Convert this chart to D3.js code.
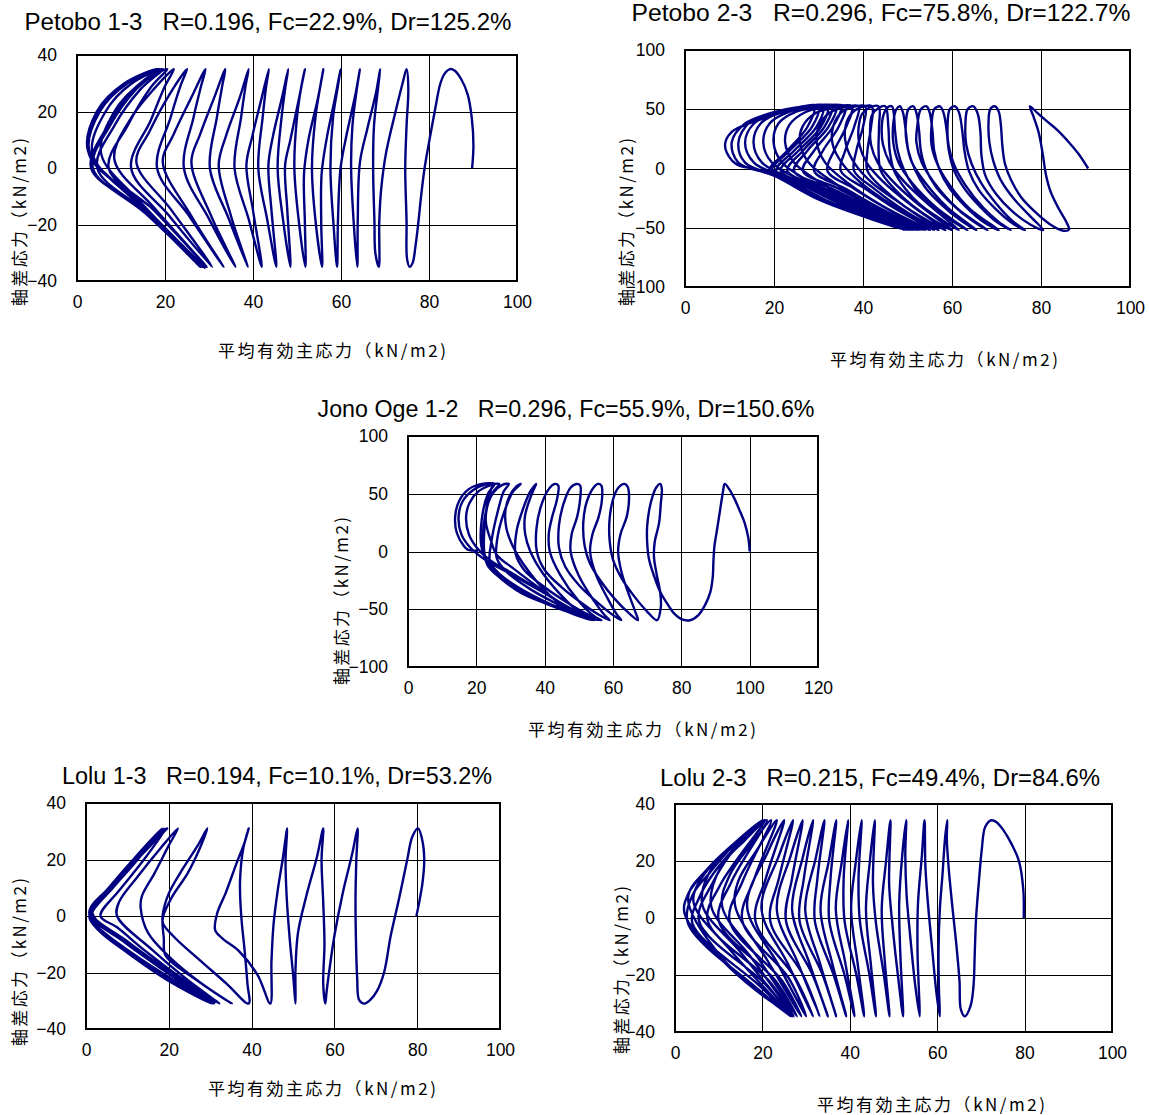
<!DOCTYPE html>
<html>
<head>
<meta charset="utf-8">
<script src="https://cdn.jsdelivr.net/npm/d3@7"></script>
<style>
body { margin: 0; background: #fff; }
svg text { font-family: "Liberation Sans", Arial, sans-serif; fill: #000; }
.jp { font-family: "Noto Sans CJK JP", sans-serif; }
</style>
</head>
<body>
<script>
var W = 1149, H = 1115;

// tick values
var xTicks100 = [0, 20, 40, 60, 80, 100];
var xTicks120 = [0, 20, 40, 60, 80, 100, 120];
var yTicks40 = [-40, -20, 0, 20, 40];
var yTicks100 = [-100, -50, 0, 50, 100];

var xLabel = "平均有効主応力（kN/m2)";
var yLabel = "軸差応力（kN/m2)";

// stress paths [p', q]
var petobo13 = [
 [89.8,0],[90.1,8],[89.7,18],[88.8,26],[87.3,31.5],[85.8,34.5],[84.8,35],
 [83.6,33.5],[82.6,30],[81.3,20],[80,9],[79,0],[78.2,-10],[77.6,-19],[76.9,-28],[76.3,-33.5],[75.6,-35],
 [75,-32],[74.9,-19],[74.6,0],[74.9,15],[75.3,28],[74.9,35],
 [74,30],[72.4,20],[70.2,5],[69.1,-8],[68.7,-19],[68.6,-35],
 [67.8,-30],[67.6,-19],[67.3,0],[67.5,15],[68.4,28],[68.9,35],
 [68,27],[66,14],[64.3,2],[63.8,-19],[63.7,-35],
 [63,-22],[62.3,0],[62.6,15],[63.6,28],[64.3,35],
 [63.4,27],[61.3,12],[59.9,0],[59.3,-19],[59.1,-35],
 [58.3,-20],[57.6,0],[58.2,18],[59.3,29],[59.9,35],
 [58.8,26],[56.7,10],[55.6,-2],[55.5,-19],[55.7,-35],
 [54.3,-20],[53.4,0],[54.2,18],[55.3,29],[56,35],
 [54.8,25],[52.6,10],[51.6,-2],[51.8,-20],[51.9,-35],
 [50.5,-20],[49.4,0],[50,18],[51,29],[51.8,35],
 [50.5,25],[48.5,10],[47.3,1],[47.8,-15],[48.5,-35],
 [46.8,-18],[45.6,0],[46.5,18],[47.4,29],[48,35],
 [46.6,25],[44.5,11],[43.5,1],[44.2,-15],[45.3,-35],
 [43.2,-18],[41.2,0],[42.2,18],[43,29],[43.6,35],
 [42,25],[39.8,11],[38.5,1],[40,-15],[42,-35],
 [39,-18],[35.8,0],[37.3,18],[38.3,29],[39,35],
 [37,25],[34,12],[32.2,1],[35,-17],[38.8,-35],
 [34.5,-18],[30.2,0],[31.8,18],[33,29],[33.7,35],
 [31.2,25],[28,12],[26,2],[30.5,-17],[36,-35],
 [30,-18],[24.3,0],[26.5,18],[28.2,29],[29.2,35],
 [26,25],[22,12],[19.5,2],[26,-17],[33.3,-35],
 [25.5,-17],[18.2,0],[21.3,18],[23.5,29],[25,35],
 [21,26],[16.5,13],[13.5,2],[21.5,-15],[30.7,-35],
 [21,-17],[12.3,0],[16.8,17],[20,29],[22,35],
 [17.5,28],[12,17],[8.5,3],[17.5,-14],[29.5,-35],
 [17.5,-15],[7.2,0],[11.5,15],[17,29],[20.5,35],
 [14.5,30],[8.5,20],[5.5,5],[15,-13],[28.8,-35],
 [16,-16],[4.6,0],[8.5,15],[14.5,28],[19.5,35],
 [12.5,30],[6.5,20],[3.5,5],[14,-13],[28.3,-35],
 [15.5,-16],[3.6,0],[7.5,15],[13.5,28],[18.8,35],
 [11.5,30],[5.2,20],[2.8,6],[13.5,-12],[28,-35],
 [15,-15],[3.2,0],[7,15],[13,28],[18.3,35],
 [10.8,30],[4.5,20],[2.5,6],[13.5,-12],[28.5,-35],
 [15,-15],[3.4,0],[7.3,15],[13.3,28],[18.6,35],
 [11,30],[4.8,20],[2.7,5],[14,-12],[29.2,-35.5]
];

var petobo23 = [
 [90.6,0],[88.5,12],[86.3,22],[83.8,32],[81.3,40],[79.3,46.5],[77.5,52.5],
 [78.3,44],[79.5,30],[80.4,12],[81.1,-5],[82.2,-20],[84,-34],[85.8,-46],[86.3,-51.5],[85,-52.5],
 [82,-47],[78.5,-36],[75.5,-24],[73.3,-10],[71.9,4],[71.3,20],[71,36],[70.5,48],[69.6,52.5],
 [68.6,50],[68.2,38],[68.4,22],[69.3,6],[71,-10],[74,-26],[77.5,-40],[80.5,-52],
 [77.5,-47],[73.5,-36],[70,-22],[67.5,-6],[66.6,12],[66.4,30],[65.8,46],[64.8,52.5],
 [63.5,50],[63,36],[63.2,20],[64.4,4],[66.5,-12],[70,-30],[73.5,-44],[76.4,-52],
 [73.5,-46],[69.5,-33],[66,-18],[63.8,-2],[62.8,15],[62.3,32],[61.6,47],[60.7,52.5],
 [59.5,50],[59,36],[59.2,20],[60.5,3],[63,-14],[67,-33],[70.5,-45],[73.2,-52],
 [70,-45],[66.5,-33],[63,-18],[60.5,-2],[59.3,15],[58.8,32],[58.1,47],[57.3,52.5],
 [56,50],[55.4,36],[55.4,20],[56.8,3],[59.5,-14],[64,-34],[70.5,-52],
 [67,-45],[63,-32],[59.5,-17],[57.2,-1],[56,15],[55.6,32],[55,47],[54.3,52.5],
 [53,50],[52.2,36],[52,22],[53.2,5],[56,-12],[61,-33],[68,-52],
 [64.5,-44],[60,-30],[56.5,-16],[54.2,-1],[53,15],[52.6,32],[52,47],[51.3,52.5],
 [50.2,50],[49.6,36],[49.8,22],[51,5],[54,-12],[59,-33],[65.5,-52],
 [62,-44],[57.5,-30],[54,-16],[51.7,-1],[50.2,15],[49.6,32],[49,47],[48.3,52.5],
 [47.5,50],[46.8,38],[46.8,22],[48,5],[51,-12],[56.5,-33],[63.5,-52],
 [60,-44],[55,-30],[51.5,-16],[49.2,-1],[47.8,15],[47.2,32],[46.9,47],[46.5,52.5],
 [45.5,51.5],[44.6,45],[44.2,33],[44.5,20],[46,5],[49,-10],[54,-28],[61.5,-52],
 [58,-44],[53,-31],[49.5,-17],[47,-2],[46,15],[45.7,35],[45,52.5],
 [43.5,51],[42,45],[41.6,33],[41.8,20],[43.3,5],[46.5,-10],[52,-29],[60,-52],
 [56,-44],[51,-31],[47,-17],[44,-2],[43.5,15],[43.6,35],[43.5,52.5],
 [41.5,51.5],[39.8,46],[39,34],[39.2,20],[40.8,5],[44.5,-11],[50.5,-30],[58.5,-52],
 [54.5,-44],[49,-31],[44.5,-17],[41,-2],[41,15],[41.8,35],[42,52.5],
 [39.5,51.5],[37.3,46],[36,34],[36.2,20],[38,5],[42,-12],[49,-31],[57,-52],
 [53,-44],[47.5,-31],[42.5,-17],[38,-2],[38.5,15],[40,35],[40.5,52.5],
 [37.5,51.5],[34.8,46],[33.2,34],[33.2,20],[35.2,5],[39.5,-12],[47,-32],[56,-52],
 [52,-44],[46,-31],[40.5,-17],[35,-2],[36,15],[38,35],[39,52.5],
 [35.5,51.5],[32.5,47],[30,35],[29.6,22],[31.5,5],[36.5,-12],[45,-33],[55,-52],
 [51,-45],[44.5,-32],[38,-17],[32,-2],[33.5,15],[36.2,35],[37.5,52.5],
 [33.5,51.5],[29.5,47],[26.5,36],[25.8,22],[27.8,5],[33.5,-12],[43,-33],[54,-52],
 [50,-45],[43,-32],[36,-17],[29,-2],[31,15],[34.5,35],[36,52.5],
 [31,51.5],[27,47.5],[23.5,37],[22.5,22],[24.5,5],[30.5,-12],[41,-33],[53.2,-52],
 [49,-45],[42,-32],[34.5,-17],[26.5,-2],[29,15],[33.2,35],[35,52.5],
 [29.5,51.5],[25,48],[21,38],[19.9,22],[21.8,5],[28,-11],[39.5,-33],[52.5,-52],
 [48,-45],[41,-32],[33,-17],[24.5,-2],[27.5,15],[32.2,35],[34,52.5],
 [28,51.5],[23.5,48],[19,38],[17.6,22],[19.5,5],[26,-10],[37.5,-32],[51.8,-52],
 [47.5,-45],[40,-32],[31.5,-17],[23,-2],[26.5,15],[31.3,35],[33,52.5],
 [27,51.5],[22,48],[17,38],[15.4,22],[17.3,5],[24,-9],[35,-30],[51.2,-52],
 [47,-45],[39,-31],[30.5,-17],[21.5,-2],[25.5,15],[30.5,35],[32,52.5],
 [26,51.5],[21,48],[15.5,38],[13.5,22],[15.5,5],[22.5,-8],[33,-29],[50.6,-52],
 [46.5,-46],[37.5,-31],[29,-16],[20.5,-2],[24.5,15],[29.5,35],[31,52.5],
 [25.5,51.5],[20.5,48],[14.5,39],[12,22],[13.5,5],[21,-7],[31.5,-28],[50,-52],
 [46,-46],[36,-30],[28,-16],[19.5,-2],[23.5,15],[28.5,35],[30,52.5],
 [25,51.5],[20,47.5],[13.5,38],[10.5,22],[12,5],[20,-6],[30.5,-27],[49.5,-52],
 [45.5,-46],[35,-30],[27,-15],[19,-2],[23,15],[27.5,35],[29,52.5],
 [24.5,50.5],[20,45],[15,39],[10.5,31],[9,20],[10.5,7],[12.5,2],[14.5,0.5]
];

var jonoOge12 = [
 [100,0],[99.6,12],[98.5,25],[97,36],[95.5,46],[94,54],[92.7,58.5],
 [92.2,52],[91.3,35],[90.4,18],[89.7,5],[89.4,-8],[89.2,-22],[88.5,-35],[87,-46],[85,-55],[82.5,-59.5],
 [80,-58.5],[78,-54],[76.5,-48],[74,-36],[72,-21],[70.5,-6],[70,8],[70,22],[70.6,36],[71.6,48],[72.8,56],[73.8,58.5],
 [74.3,54],[74,42],[73.5,25],[72.2,8],[72,-5],[72.8,-20],[73.8,-35],[74,-48],[72.9,-59.5],
 [70,-52],[66,-38],[62.5,-23],[60,-7],[59,10],[59,28],[60,45],[61.5,55],[63.4,58.5],
 [64.3,56],[64.7,46],[64,30],[62.2,15],[61.5,0],[62.5,-18],[64.5,-36],[66.5,-52],[67.3,-59.5],
 [64.5,-53],[60.5,-41],[56.5,-26],[53.2,-10],[51.7,5],[51.3,25],[52.3,43],[54,54],[55.6,58.5],
 [56.6,57],[56.8,46],[55.8,30],[54,15],[53.3,0],[55,-20],[58.5,-41],[61,-54],[62.4,-59.5],
 [59.5,-54],[55,-43],[50,-29],[46,-13],[44.2,3],[44.2,23],[45.6,42],[47.5,55],[49.3,58.5],
 [50.4,57],[50.4,46],[49.5,30],[47.9,15],[47.6,0],[50,-21],[54.5,-43],[57.5,-55],[59,-59.5],
 [56,-55],[51,-45],[45,-31],[40,-16],[37.7,0],[37.6,20],[39,40],[41.2,54],[43,58.5],
 [44,57],[43.6,45],[42.2,30],[41.2,15],[41.5,0],[44.5,-20],[50,-43],[54.5,-56],[56.6,-59.5],
 [53,-55],[47,-45],[40,-31],[34,-16],[31.5,-2],[31.8,18],[33.8,38],[35.8,52],[37.5,58.5],
 [37,55],[35.6,45],[34.2,30],[34.3,15],[35.8,0],[39.5,-19],[46.5,-43],[51.5,-56],[54.6,-59.5],
 [51,-56],[44,-46],[36,-33],[29,-18],[26,-6],[26.3,14],[28.5,37],[30.8,52],[33,58.5],
 [31.6,56],[29.7,48],[28.5,35],[28.8,20],[30.6,5],[33.8,-11],[41.5,-38],[49,-54],[53.8,-59.5],
 [50,-56],[42,-46],[34,-34],[27,-20],[24,-9],[24.5,10],[26.3,35],[28,52],[29.5,58.5],
 [27.5,57.5],[25,51],[23.2,39],[22.8,25],[24.2,10],[26,-3],[31,-15],[40,-35],[47.5,-50],[54.5,-59.5],
 [50.5,-56],[41.5,-46.5],[33,-35],[26.5,-21],[23,-9],[22,5],[22.4,28],[24.3,49],[26.7,58.5],
 [24.3,57.5],[20.6,52],[18,42],[17,30],[17.8,15],[20.2,3],[23.8,-7],[30,-18],[40,-36],[48,-50],[56,-59.5],
 [52,-56],[43,-47],[34,-36],[27.5,-22.5],[23.5,-10.5],[21.5,4],[21.6,28],[23.4,50],[25.3,58.5],
 [22.5,58],[19,53],[16,43.5],[14.8,30],[15.6,15],[18.2,3.5],[23,-8],[29.5,-18.5],[40.5,-37],[48.5,-51],[55.8,-59.5],
 [51.8,-56],[42.8,-47.5],[33.5,-36.5],[27,-23],[23.3,-12],[22.3,0],[22.5,25],[23.6,48],[24.6,58.5],
 [21.6,58.5],[17.8,54],[15,44],[13.8,30],[14.3,16],[16.3,5],[17.5,1.5],[19,0.8],[20.5,0.6]
];

var lolu13 = [
 [79.8,0],[80.5,5],[81.3,12],[81.7,20],[81.2,27],[80.2,31],
 [78.8,28],[77.6,20],[75.6,6],[73.6,-7],[72,-20],[70.3,-26.5],[68.6,-29.8],[67.3,-31],
 [66,-29.8],[65.5,-22],[65.2,-8],[65.1,6],[65.3,20],[65.6,31],
 [64.3,22],[62,8],[60,-7],[58.8,-19],[58.1,-27],[57.8,-31],
 [57.3,-24],[57.6,-10],[57.3,5],[56.9,20],[57.3,31],
 [55.8,21],[53.2,7],[51.2,-6],[50.6,-19],[50.6,-31],
 [50.1,-22],[49.2,-8],[48.5,6],[48.2,20],[48.6,31],
 [47.5,20],[46.3,9],[45.3,-3],[44.8,-16],[44.5,-31],
 [41.5,-21],[37,-12.5],[33,-8],[31.2,-5],[31.7,1],[33.7,8],[36.4,18.8],[38.3,26],[39.3,31],
 [38,24],[37.2,12],[37.5,0],[38.3,-12],[39,-24],[39.3,-31],
 [34,-24],[27,-15],[21,-7],[18.5,-2],[20.5,6],[24.5,15],[27.5,24],[29.3,31],
 [27,25],[23.5,17],[20,8],[18.5,0],[18.8,-8],[19.2,-14],[26,-22],[35.2,-31],
 [28,-24],[20.5,-15],[15,-6],[13.2,3],[13.5,7],[16.5,15],[20,25],[22.2,31],
 [18,24],[12.5,14],[8,5],[7.5,0],[16,-12],[24,-22],[32.2,-31],
 [24,-23],[14,-12],[7.5,-4],[3.5,0],[8,9],[13.5,19],[19.3,31],
 [13,21],[6.5,10],[1.5,1.5],[10,-10],[20,-20],[30.8,-31],
 [21.5,-23],[11,-13],[3,-4],[1,0.5],[6.5,10],[12.5,20],[18.3,31],
 [12,21],[5.5,10],[0.8,1],[9,-9],[19,-19.5],[30.4,-31],
 [20,-23],[10,-13],[3,-5],[0.8,0],[6,10],[12,20],[18.7,31],
 [12.5,21],[6,10],[1,1.2],[9.5,-9],[19.5,-19.5],[30.8,-31],
 [20.5,-23],[10.5,-13],[3.5,-5],[1.2,0],[6.5,10],[13,21],[19.6,31],
 [13,21],[6.5,11],[1.3,1.5],[10,-9],[20,-19.5],[31.2,-31]
];

var lolu23 = [
 [79.8,0],[79.7,10],[78.7,20],[77,26],[75.3,30.5],[73.6,33.6],[72.4,34.3],
 [71,32],[70.2,24],[69.5,12],[68.9,0],[68.6,-12],[68.3,-24],[67.6,-31],[66.3,-34.5],
 [65.4,-32],[65.1,-22],[64.3,-8],[63.4,5],[62.6,18],[62.2,28],[62.3,34.3],
 [61.8,28],[61.2,15],[60.6,3],[60.3,-12],[60.4,-25],[60.6,-34.5],
 [59.8,-26],[58.8,-10],[58,3],[57.3,18],[57.1,34.3],
 [56.5,22],[55.6,5],[55.5,-12],[55.8,-25],[56,-34.5],
 [55,-24],[53.8,-6],[53,8],[52.7,22],[52.9,34.3],
 [52,22],[51.3,5],[51.6,-14],[52.2,-34.5],
 [51,-20],[49.8,-3],[49,12],[49.3,34.3],
 [48.3,20],[47.3,3],[48,-15],[49.1,-34.5],
 [47.8,-20],[46,-2],[45.3,12],[45.7,34.3],
 [44.6,20],[43.7,3],[44.8,-16],[46,-34.5],
 [44.5,-20],[42.3,-1],[42,14],[42.7,34.3],
 [41.4,20],[40.3,3],[41.8,-16],[43.3,-34.5],
 [41.5,-20],[38.8,-1],[38.6,14],[39.6,34.3],
 [38.2,20],[36.8,3],[39,-16],[41.1,-34.5],
 [38.8,-20],[35.3,-1],[35.6,14],[36.9,34.3],
 [35.2,20],[33.3,3],[36,-16],[39.2,-34.5],
 [36.3,-20],[32,-1],[32.6,14],[34.2,34.3],
 [32.2,21],[29.8,3],[33.2,-16],[36.9,-34.5],
 [33.8,-20],[28.5,-1],[29.5,14],[31.6,34.3],
 [29.2,21],[26.8,3],[30.8,-16],[35,-34.5],
 [31.5,-20],[25.4,-1],[26.8,14],[29.2,34.3],
 [26.5,22],[23.3,3],[28.2,-16],[33.1,-34.5],
 [29.3,-20],[21.8,-1],[23.8,14],[27,34.3],
 [23.8,22],[19.8,3],[25.8,-16],[31.6,-34.5],
 [27.5,-21],[18.4,-1],[20.8,14],[25,34.3],
 [21.2,23],[16.5,4],[23.5,-16],[30,-34.5],
 [26,-21],[15.4,-1],[18.2,14],[23.3,34.3],
 [18.8,24],[14.5,13],[13.8,4],[21.2,-15],[28.9,-34.5],
 [24.5,-22],[12.5,-1],[15.5,13],[22,34.3],
 [17,25],[12.5,15],[10.8,4],[19,-14],[27.9,-34.5],
 [23,-22],[10,-1],[13,13],[21,34.3],
 [15.8,27],[10.5,18],[8.3,4],[17,-13],[27.2,-34.5],
 [21.5,-22],[7.5,-1],[10.5,12],[20.5,34.3],
 [15,27.5],[9,19],[6.2,5],[15,-12],[26.8,-34.5],
 [20.5,-23],[5.5,-1],[8.5,12],[14.5,26],[20.2,34.3],
 [14.8,27.5],[8,18],[4.2,6],[12.5,-11],[26.5,-34.5],
 [19.5,-24],[4,-2],[5.5,7],[8.5,15],[14.5,26],[20,34.3],
 [14.5,27.5],[7.3,17],[3,7],[10.8,-14],[26.5,-34.5],
 [19,-25],[3,-2],[4,8],[8,16],[14.3,27],[20.3,34.3],
 [14.8,27],[7.1,16.6],[3,8.4],[2.2,1.5],[10.9,-15],[18.6,-25.5],[27,-34.5]
];

// panel layout
var panels = [
 {data: petobo13, title: "Petobo 1-3   R=0.196, Fc=22.9%, Dr=125.2%", tx: 268, ty: 30, tw: 487,
  box: [77, 55, 517, 281], xMax: 100, xTicks: xTicks100, yMax: 40, yTicks: yTicks40, xt: [332, 351], yt: [20, 222]},
 {data: petobo23, title: "Petobo 2-3   R=0.296, Fc=75.8%, Dr=122.7%", tx: 881, ty: 21, tw: 499,
  box: [685, 50, 1130, 287], xMax: 100, xTicks: xTicks100, yMax: 100, yTicks: yTicks100, xt: [944, 360], yt: [627, 222]},
 {data: jonoOge12, title: "Jono Oge 1-2   R=0.296, Fc=55.9%, Dr=150.6%", tx: 566, ty: 417, tw: 497,
  box: [408, 436, 818, 667], xMax: 120, xTicks: xTicks120, yMax: 100, yTicks: yTicks100, xt: [642, 730], yt: [342, 601]},
 {data: lolu13, title: "Lolu 1-3   R=0.194, Fc=10.1%, Dr=53.2%", tx: 277, ty: 784, tw: 430,
  box: [86, 803, 500, 1029], xMax: 100, xTicks: xTicks100, yMax: 40, yTicks: yTicks40, xt: [322, 1089], yt: [20, 962]},
 {data: lolu23, title: "Lolu 2-3   R=0.215, Fc=49.4%, Dr=84.6%", tx: 880, ty: 786, tw: 440,
  box: [675, 804, 1112, 1032], xMax: 100, xTicks: xTicks100, yMax: 40, yTicks: yTicks40, xt: [931, 1105], yt: [622, 970]}
];

var svg = d3.select("body").append("svg")
    .attr("width", W)
    .attr("height", H);

function fmt(d) {
    return d < 0 ? "\u2212" + Math.abs(d) : String(d);
}

panels.forEach(function(pn, i) {
    var x0 = pn.box[0], y0 = pn.box[1], x1 = pn.box[2], y1 = pn.box[3];
    var w = x1 - x0, h = y1 - y0;
    var x = d3.scaleLinear().domain([0, pn.xMax]).range([0, w]);
    var y = d3.scaleLinear().domain([-pn.yMax, pn.yMax]).range([h, 0]);

    var g = svg.append("g").attr("transform", "translate(" + x0 + "," + y0 + ")");

    // grid
    g.append("g")
        .attr("transform", "translate(0," + h + ")")
        .call(d3.axisBottom(x).tickValues(pn.xTicks).tickSize(-h).tickFormat(""))
        .call(function(s) {
            s.select(".domain").remove();
            s.selectAll("line").attr("stroke", "#000").attr("stroke-width", 1).attr("shape-rendering", "crispEdges");
        });
    g.append("g")
        .call(d3.axisLeft(y).tickValues(pn.yTicks).tickSize(-w).tickFormat(""))
        .call(function(s) {
            s.select(".domain").remove();
            s.selectAll("line").attr("stroke", "#000").attr("stroke-width", 1).attr("shape-rendering", "crispEdges");
        });

    // tick labels
    g.append("g")
        .attr("transform", "translate(0," + h + ")")
        .call(d3.axisBottom(x).tickValues(pn.xTicks).tickSize(0).tickPadding(15).tickFormat(fmt))
        .call(function(s) {
            s.select(".domain").remove();
            s.selectAll("text").attr("font-size", "17.5px").attr("font-family", "Liberation Sans, Arial, sans-serif");
        });
    g.append("g")
        .call(d3.axisLeft(y).tickValues(pn.yTicks).tickSize(0).tickPadding(20).tickFormat(fmt))
        .call(function(s) {
            s.select(".domain").remove();
            s.selectAll("text").attr("font-size", "17.5px").attr("font-family", "Liberation Sans, Arial, sans-serif");
        });

    // stress path
    g.append("clipPath").attr("id", "clip" + i)
        .append("rect").attr("width", w).attr("height", h);

    var line = d3.line()
        .x(function(d) { return x(d[0]); })
        .y(function(d) { return y(d[1]); })
        .curve(d3.curveCatmullRom.alpha(0.5));

    g.append("path")
        .datum(pn.data)
        .attr("clip-path", "url(#clip" + i + ")")
        .attr("fill", "none")
        .attr("stroke", "#000080")
        .attr("stroke-width", 2.4)
        .attr("stroke-linejoin", "round")
        .attr("d", line);

    // frame
    g.append("rect")
        .attr("width", w).attr("height", h)
        .attr("fill", "none")
        .attr("stroke", "#000")
        .attr("stroke-width", 2);

    // titles
    svg.append("text")
        .attr("x", pn.tx).attr("y", pn.ty)
        .attr("text-anchor", "middle")
        .attr("font-size", "23.5px")
        .attr("textLength", pn.tw)
        .attr("lengthAdjust", "spacingAndGlyphs")
        .style("white-space", "pre")
        .text(pn.title);

    svg.append("text")
        .attr("class", "jp")
        .attr("x", pn.xt[0]).attr("y", pn.xt[1] + 6)
        .attr("text-anchor", "middle")
        .attr("font-size", "17px")
        .attr("textLength", 228)
        .attr("lengthAdjust", "spacing")
        .text(xLabel);

    svg.append("text")
        .attr("class", "jp")
        .attr("transform", "translate(" + (pn.yt[0] + 6) + "," + pn.yt[1] + ") rotate(-90)")
        .attr("text-anchor", "middle")
        .attr("font-size", "17px")
        .attr("textLength", 168)
        .attr("lengthAdjust", "spacing")
        .text(yLabel);
});
</script>
</body>
</html>
